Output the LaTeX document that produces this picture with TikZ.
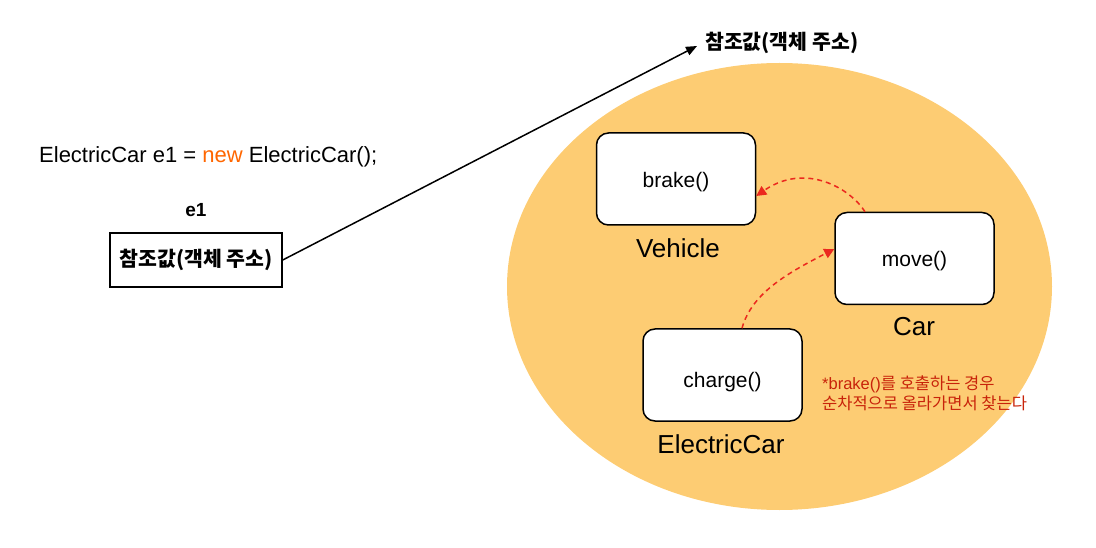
\documentclass[tikz,border=0pt]{standalone}
\usepackage{fontspec}
\setmainfont{Liberation Sans}
\newfontfamily\kr{Noto Sans CJK KR}
\usetikzlibrary{arrows.meta}
\definecolor{fillorange}{RGB}{253,204,115}
\definecolor{newcol}{RGB}{255,102,0}
\definecolor{notered}{RGB}{200,35,10}
\definecolor{dashred}{RGB}{235,40,30}
\tikzset{
  method/.style={draw=black, line width=1.5pt, fill=white, rounded corners=12pt, minimum width=159pt, minimum height=92pt, font=\fontsize{21}{25}\selectfont, inner sep=0pt, text height=17pt, text depth=0pt},
  classlbl/.style={font=\fontsize{26}{30}\selectfont, inner sep=0pt},
  refbox/.style={draw=black, line width=1.5pt, minimum width=172pt, minimum height=54pt, inner sep=0pt},
  lookup/.style={draw=dashred, line width=1.5pt, dash pattern=on 5pt off 4pt, -{Triangle[length=10pt,width=10pt]}},
}
\begin{document}
\begin{tikzpicture}[x=1pt,y=-1pt]
\useasboundingbox (0,0) rectangle (1096,548);
% object ellipse
\fill[fillorange] (779.5,286.5) ellipse [x radius=272.5, y radius=223.5];
% code line
\node (code) [anchor=west, inner sep=0pt, font=\fontsize{22}{26}\selectfont] at (39,157) {ElectricCar e1 = \textcolor{newcol}{new} ElectricCar();};
\node (e1) [inner sep=0pt, font=\fontsize{19}{23}\selectfont\bfseries] at (196,210) {e1};
\node (ref) [refbox, font=\fontsize{20.5}{24}\kr\bfseries] at (196,260) {참조값(객체 주소)};
\node (reflabel) [anchor=west, inner sep=0pt, font=\fontsize{20.5}{24}\kr\bfseries] at (705,43) {참조값(객체 주소)};
\coordinate (tip) at (697,46);
\draw[line width=1.5pt, -{Triangle[length=11pt,width=9pt]}] (ref.east) -- (tip);
% methods
\node (brake) [method] at (676,179) {brake()};
\node (move) [method] at (914.5,258.5) {move()};
\node (charge) [method, text height=25pt] at (722.5,375) {charge()};
\node (vehicle) [classlbl] at (678,248) {Vehicle};
\node (car) [classlbl] at (914,327) {Car};
\node (ecar) [classlbl] at (721,444) {ElectricCar};
% lookup arrows
\draw[lookup] ([xshift=-49.5pt]move.north) .. controls (850,188) and (805,162) .. ([yshift=-17pt]brake.east);
\draw[lookup] ([xshift=19.5pt]charge.north) .. controls (752,292) and (790,272) .. ([yshift=9.5pt]move.west);
% note
\node (note) [anchor=north west, align=left, inner sep=0pt, text=notered, font=\fontsize{16.5}{20}\kr] at (822,376) {{\rmfamily *brake()}를 호출하는 경우\\순차적으로 올라가면서 찾는다};
\end{tikzpicture}
\end{document}
